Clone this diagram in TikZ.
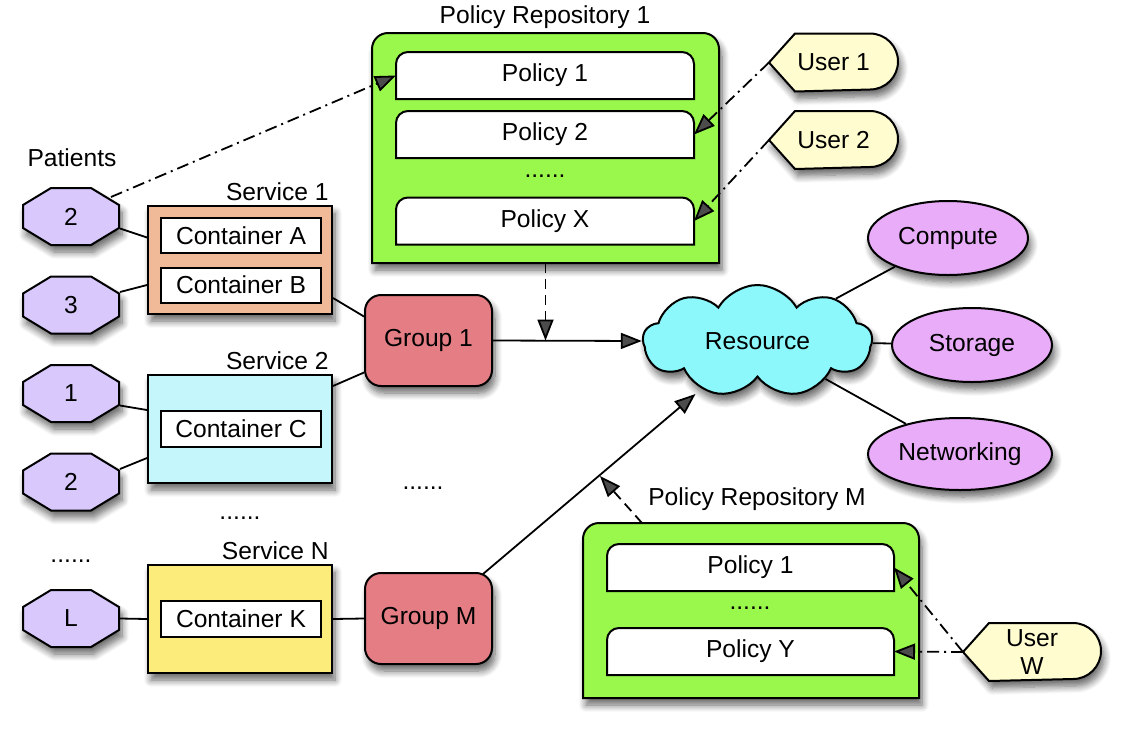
\documentclass[tikz,border=0pt]{standalone}
\usepackage{fontspec}
\setmainfont{Liberation Sans}
\usetikzlibrary{arrows.meta,shapes.geometric,shapes.symbols,shadows.blur,calc}
\definecolor{repogreen}{HTML}{9AF74C}
\definecolor{svcA}{HTML}{F0B998}
\definecolor{svcB}{HTML}{C4F6FC}
\definecolor{svcC}{HTML}{FCEC7C}
\definecolor{grp}{HTML}{E47E84}
\definecolor{cloudc}{HTML}{8CF8FC}
\definecolor{resc}{HTML}{E8ACF8}
\definecolor{octc}{HTML}{D8C8FC}
\definecolor{userc}{HTML}{FFFDD0}
\tikzset{
  every node/.style={font=\fontsize{12.3}{14}\selectfont},
  sh/.style={blur shadow={shadow xshift=1.5pt,shadow yshift=-3.5pt,shadow blur steps=8,shadow blur radius=3.5pt,shadow opacity=60}},
  edge/.style={line width=0.9pt},
  svc/.style={draw,line width=1pt,sh,inner sep=0,minimum width=92pt,minimum height=54pt},
  cont/.style={draw,line width=1pt,fill=white,inner sep=0,minimum width=80pt,minimum height=17.5pt},
  grpbox/.style={draw,line width=1pt,fill=grp,rounded corners=8pt,sh,inner sep=0,minimum width=63.5pt,minimum height=45.5pt},
  resell/.style={ellipse,draw,line width=1pt,fill=resc,sh,inner sep=0},
  octtext/.style={inner sep=0,minimum width=48pt,minimum height=28.5pt},
  octo/.style={draw,line width=1pt,fill=octc,sh},
  boxtext/.style={inner sep=0},
  polbox/.style={draw,line width=1pt,fill=white},
  repobox/.style={draw,line width=1pt,fill=repogreen,sh},
  userbox/.style={draw,line width=1pt,fill=userc,sh},
  usertext/.style={inner sep=0,minimum width=63.5pt,minimum height=28pt,align=center},
  arr/.style={-{Triangle[length=10.5pt,width=8pt]}},
  dsh/.style={line width=0.9pt,dash pattern=on 5pt off 3pt},
  dd/.style={line width=0.9pt,dash pattern=on 6pt off 2.5pt on 1pt off 2.5pt},
}
% octagon: node name, x, y, text
\newcommand\octnode[4]{%
  \path[octo] node[octtext] (#1) at (#2,#3) {#4}
    ($(#1)+(-48,-11.5)$) -- ++(28,-17) -- ++(40,0) -- ++(28,17) -- ++(0,23)
     -- ++(-28,17) -- ++(-40,0) -- ++(-28,-17) -- cycle;}
% box with rounded top corners: style, node options, name, x, y, text, radius
\newcommand\topbox[7]{%
  \path[#1] node[boxtext,#2] (#3) at (#4,#5) {#6}
    (#3.south west) -- ([yshift=-#7]#3.north west)
    arc[start angle=180,end angle=90,radius=#7] -- ([xshift=-#7]#3.north east)
    arc[start angle=90,end angle=0,radius=#7] -- (#3.south east) -- cycle;}
% user tag: name, x, y, width, text
\newcommand\usernode[5]{%
  \path[userbox] node[usertext,minimum width=#4] (#1) at (#2,#3) {#5}
    (#1.west) -- ([xshift=13pt]#1.north west) -- ([xshift=-14pt]#1.north east)
    arc[start angle=90,end angle=-90,radius=14pt] -- ([xshift=13pt]#1.south west) -- cycle;}
\begin{document}
\begin{tikzpicture}[x=0.5pt,y=-0.5pt]
\useasboundingbox (0,0) rectangle (1125,729);

% ---------- Policy repository 1
\node[boxtext] (t1) at (545,17) {Policy Repository 1};
\topbox{repobox}{minimum width=172.5pt,minimum height=114pt}{r1}{545.5}{148}{}{8pt}
\topbox{polbox}{minimum width=148pt,minimum height=22.5pt}{p11}{545}{75.5}{Policy 1}{6pt}
\topbox{polbox}{minimum width=148pt,minimum height=22.5pt}{p12}{545}{134.5}{Policy 2}{6pt}
\node[boxtext] (d1) at (545,176) {......};
\topbox{polbox}{minimum width=148pt,minimum height=22.5pt}{p1x}{545}{221}{Policy X}{6pt}

% ---------- users
\usernode{u1}{833.5}{62.5}{63.5pt}{User 1}
\usernode{u2}{833.5}{140}{63.5pt}{User 2}
\usernode{uw}{1032}{652}{68pt}{User\\W}

% ---------- patients
\node[boxtext] (pat) at (72,158) {Patients};
\octnode{o2a}{71}{216.5}{2}
\octnode{o3}{71}{305}{3}
\octnode{o1}{71}{393.5}{1}
\octnode{o2b}{71}{482}{2}
\node[boxtext] (d2) at (71,561) {......};
\octnode{oL}{71}{618.5}{L}

% ---------- services
\node[svc,fill=svcA] (s1) at (240,260) {};
\node[anchor=south east,inner sep=2pt] (ls1) at (s1.north east) {Service 1};
\node[cont] (ca) at (241,235.5) {Container A};
\node[cont] (cb) at (241,285) {Container B};
\node[svc,fill=svcB] (s2) at (240,429) {};
\node[anchor=south east,inner sep=2pt] (ls2) at (s2.north east) {Service 2};
\node[cont,minimum height=18pt] (cc) at (241,429) {Container C};
\node[boxtext] (d3) at (240,518) {......};
\node[svc,fill=svcC] (sN) at (240,619) {};
\node[anchor=south east,inner sep=2pt] (lsN) at (sN.north east) {Service N};
\node[cont,minimum height=18pt] (ck) at (241,619) {Container K};

% ---------- groups
\node[grpbox] (g1) at (428.5,340.5) {Group 1};
\node[grpbox] (gM) at (428.5,618.5) {Group M};
\node[boxtext] (d4) at (423,488) {......};

% ---------- resource
\node[cloud,cloud puffs=9,cloud puff arc=120,aspect=2,cloud ignores aspect,draw,line width=1pt,fill=cloudc,sh,
      inner sep=0,minimum width=114.5pt,minimum height=56pt] (res) at (757.5,341) {Resource};
\node[resell,minimum width=80pt,minimum height=37pt] (comp) at (948,238) {Compute};
\node[resell,minimum width=80pt,minimum height=37pt] (stor) at (972,345) {Storage};
\node[resell,minimum width=92pt,minimum height=36pt] (net) at (960,454) {Networking};

% ---------- Policy repository M
\node[boxtext] (tM) at (757,499) {Policy Repository M};
\topbox{repobox}{minimum width=167pt,minimum height=86.5pt}{rM}{751}{610.5}{}{8pt}
\topbox{polbox}{minimum width=142.5pt,minimum height=22.5pt}{pm1}{750.5}{567.5}{Policy 1}{6pt}
\node[boxtext] (d5) at (750,608) {......};
\topbox{polbox}{minimum width=142.5pt,minimum height=22.5pt}{pmy}{750.5}{651.5}{Policy Y}{6pt}

% ---------- plain connectors
\draw[edge] ($(o2a.east)+(0,12)$) -- ($(s1.west)+(0,-22.5)$);
\draw[edge] ($(o3.east)+(0,-13)$) -- ($(s1.west)+(0,25)$);
\draw[edge] ($(o1.east)+(0,12)$) -- ($(s2.west)+(0,-19)$);
\draw[edge] ($(o2b.east)+(0,-13)$) -- ($(s2.west)+(0,29)$);
\draw[edge] (oL.east) -- (sN.west);
\draw[edge] ($(s1.east)+(0,38)$) -- ($(g1.west)+(0,-24)$);
\draw[edge] ($(s2.east)+(0,-43)$) -- ($(g1.west)+(0,32)$);
\draw[edge] (sN.east) -- (gM.west);
\draw[edge] (res) -- (comp);
\draw[edge] (res) -- (stor);
\draw[edge] (res) -- (net);
\draw[edge,arr] (g1.east) -- (res.west);
\draw[edge,arr] ($(gM.north east)+(-10,2)$) -- ($(res.center)+(-62,53)$);

% ---------- policy arrows
\coordinate (j1) at (r1.south |- g1.east);
\draw[dsh,arr] (r1.south) -- (j1);
\coordinate (j2) at (600,476);
\draw[dsh,arr] ($(rM.north)+(-109,0)$) -- (j2);
\draw[dd,arr] ($(o2a.north east)+(-9,10)$) -- (p11.west);
\draw[dd,arr] (u1.west) -- (p12.east);
\draw[dd,arr] (u2.west) -- (p1x.east);
\draw[dd,arr] (uw.west) -- (pmy.east);
\draw[dd,arr] (uw.west) -- (pm1.east);
\end{tikzpicture}
\end{document}
